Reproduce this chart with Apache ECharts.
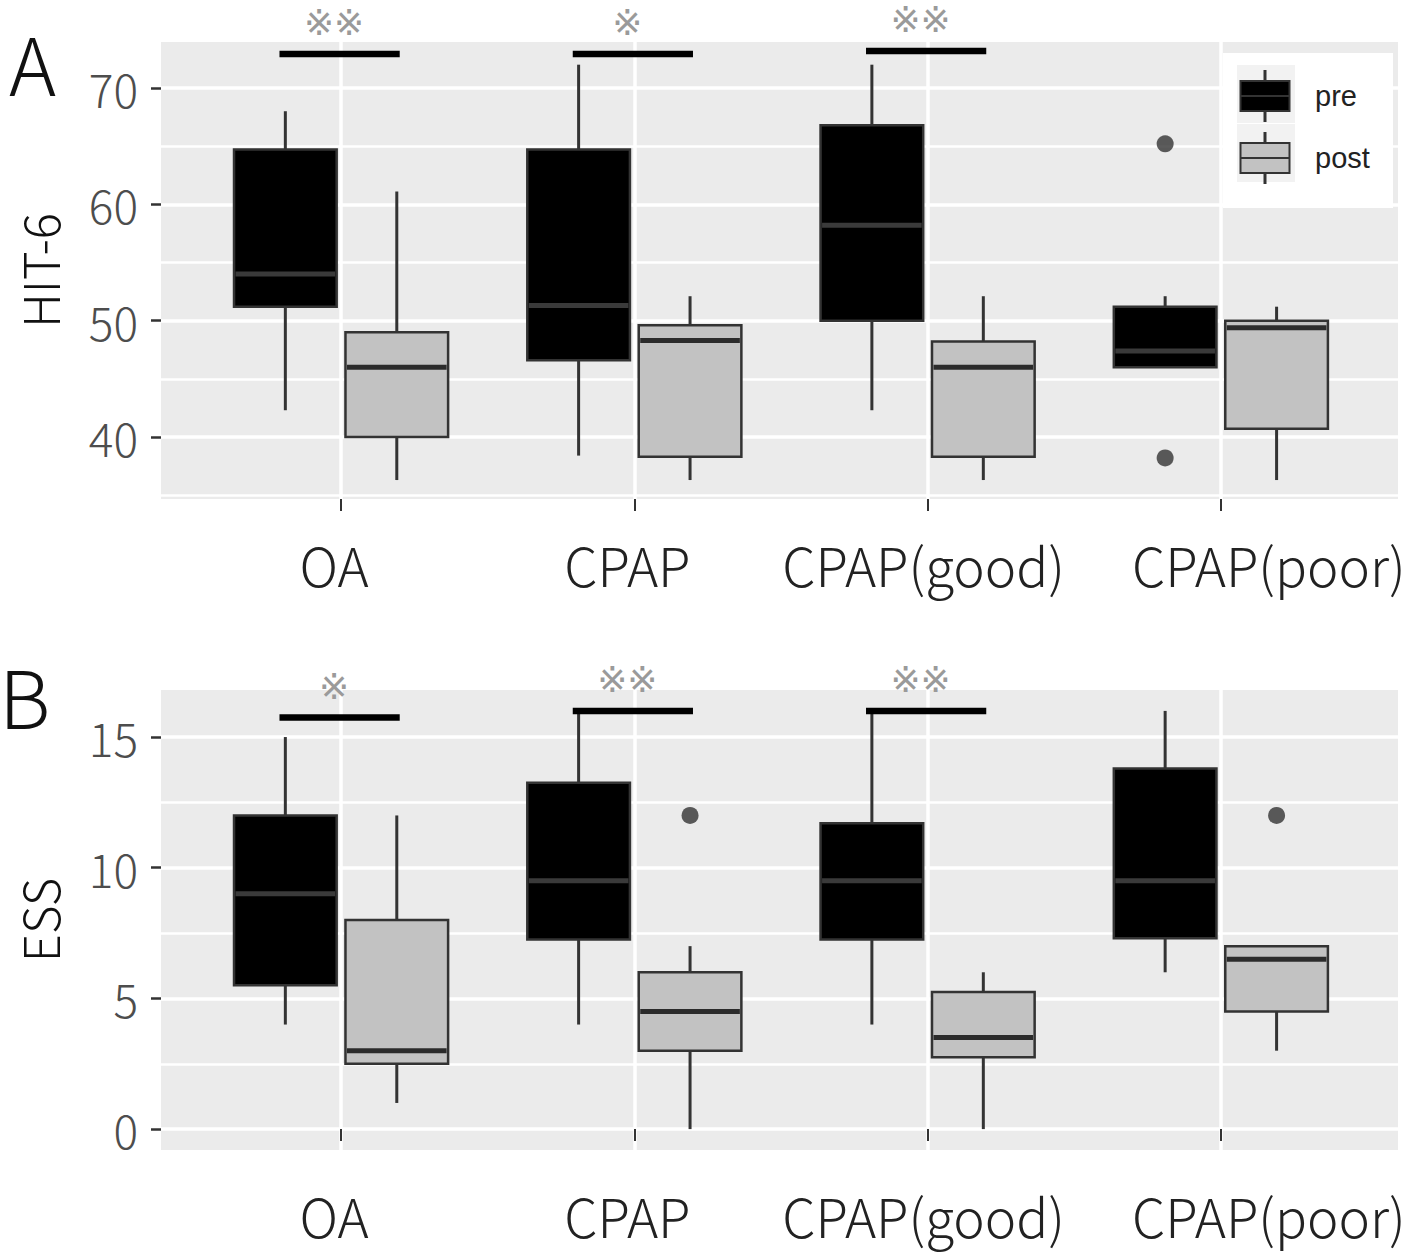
<!DOCTYPE html>
<html>
<head>
<meta charset="utf-8">
<script src="https://cdn.jsdelivr.net/npm/echarts@6/dist/echarts.min.js"></script>
<style>
html,body{margin:0;padding:0;background:#fff;}
#chart{width:1416px;height:1256px;}
</style>
</head>
<body>
<div id="chart"></div>
<script>
// ---------- data ----------
const categories = ['OA', 'CPAP', 'CPAP(good)', 'CPAP(poor)'];
const groupNames = ['pre', 'post'];
// five-number summaries: [lower whisker, Q1, median, Q3, upper whisker]
const hitPre  = [[42.3, 51.2, 54.0, 64.7, 68.0], [38.4, 46.6, 51.3, 64.7, 72.0], [42.3, 50.0, 58.2, 66.8, 72.0], [46.0, 46.0, 47.4, 51.2, 52.1]];
const hitPost = [[36.3, 40.0, 46.0, 49.0, 61.1], [36.3, 38.3, 48.3, 49.6, 52.1], [36.3, 38.3, 46.0, 48.2, 52.1], [36.3, 40.7, 49.4, 50.0, 51.2]];
const essPre  = [[4, 5.5, 9, 12, 15], [4, 7.25, 9.5, 13.25, 16], [4, 7.25, 9.5, 11.7, 16], [6, 7.3, 9.5, 13.8, 16]];
const essPost = [[1, 2.5, 3, 8, 12], [0, 3, 4.5, 6, 7], [0, 2.75, 3.5, 5.25, 6], [3, 4.5, 6.5, 7, 7]];
// outliers: [group, category index, value]
const hitOutliers = [['pre', 3, 65.2], ['pre', 3, 38.2]];
const essOutliers = [['post', 1, 12], ['post', 3, 12]];
// significance bars: [category index, bar value, label]
const hitSig = [[0, 72.92, '※※'], [1, 72.92, '※'], [2, 73.18, '※※']];
const essSig = [[0, 15.75, '※'], [1, 16.0, '※※'], [2, 16.0, '※※']];
// axis ticks
const catTicks = [1, 2, 3, 4];
const hitTicks = [40, 50, 60, 70];
const hitMinor = [35, 45, 55, 65];
const essTicks = [0, 5, 10, 15];
const essMinor = [2.5, 7.5, 12.5];

// ---------- layout / style ----------
const FONT = '"Noto Sans CJK JP", "Noto Sans", sans-serif';
const MARK_FONT = '"DejaVu Sans", "Noto Sans CJK JP", sans-serif';
const DODGE = 0.19, BOX_W = 0.35, SIG_FROM = -0.21, SIG_TO = 0.2;
const X_MIN = 0.386, X_MAX = 4.604;
const FILL = {pre: '#000000', post: '#c2c2c2'};
const MED = {pre: '#3a3a3a', post: '#2b2b2b'};
const OFFSET = {pre: -DODGE, post: DODGE};
// horizontal nudges of the category labels (left/right padding in px)
const LABEL_PAD = [[0, 14], [0, 14], [0, 8], [96, 0]];
const ICON = 'path://M24,0 L25,0 L25,10 L24,10 Z M0,10 L49,10 L49,40 L0,40 Z M0,25 L49,25 M24,40 L25,40 L25,50 L24,50 Z';

const labelRich = {};
categories.forEach((c, i) => {
  labelRich['c' + i] = {fontSize: 53, fontWeight: 300, color: '#222', fontFamily: FONT,
    padding: [0, LABEL_PAD[i][1], 0, LABEL_PAD[i][0]]};
});

function xAxisCfg(gi) {
  return {
    gridIndex: gi, type: 'value', min: X_MIN, max: X_MAX,
    axisLine: {show: false},
    axisTick: {show: true, customValues: catTicks, length: 12, lineStyle: {color: '#333', width: 2}},
    axisLabel: {show: true, customValues: catTicks, margin: 38, fontSize: 53, color: '#222', fontFamily: FONT,
      formatter: v => { const i = Math.round(v) - 1; return '{c' + i + '|' + categories[i] + '}'; },
      rich: labelRich},
    splitLine: {show: true, lineStyle: {color: '#ffffff', width: 3.5}}
  };
}
function yAxisCfg(gi, min, max, ticks, name) {
  return {
    gridIndex: gi, type: 'value', min: min, max: max, position: 'left',
    name: name, nameLocation: 'middle', nameRotate: 90, nameGap: 98,
    nameTextStyle: {fontSize: 49, fontWeight: 300, color: '#111', fontFamily: FONT},
    axisLine: {show: false},
    axisTick: {show: true, customValues: ticks, length: 10, lineStyle: {color: '#333', width: 2.5}},
    axisLabel: {show: true, customValues: ticks, margin: 23, fontSize: 46, fontWeight: 300, color: '#4d4d4d', fontFamily: FONT},
    splitLine: {show: true, lineStyle: {color: '#ffffff', width: 3.5}}
  };
}
function yMinorCfg(gi, min, max, ticks) {
  return {
    gridIndex: gi, type: 'value', min: min, max: max, position: 'left',
    axisLine: {show: false},
    axisTick: {show: false, customValues: ticks},
    axisLabel: {show: false, customValues: ticks},
    splitLine: {show: true, lineStyle: {color: '#ffffff', width: 2.5}}
  };
}

function boxSeries(group, stats, gi) {
  const fill = FILL[group], med = MED[group], off = OFFSET[group];
  return {
    type: 'custom', name: group, xAxisIndex: gi, yAxisIndex: gi * 2, z: 3,
    itemStyle: {color: fill, borderColor: '#333', borderWidth: 2},
    encode: {x: 0, y: [1, 2, 3, 4, 5]},
    data: stats.map((s, i) => [i + 1].concat(s)),
    renderItem: function (params, api) {
      const x = api.value(0) + off;
      const p = k => api.coord([x, api.value(k)]);
      const lo = p(1), q1 = p(2), md = p(3), q3 = p(4), hi = p(5);
      const w = api.size([BOX_W, 0])[0];
      const cx = lo[0];
      return {type: 'group', children: [
        {type: 'line', shape: {x1: cx, y1: hi[1], x2: cx, y2: q3[1]}, style: {stroke: '#333', lineWidth: 3}},
        {type: 'line', shape: {x1: cx, y1: q1[1], x2: cx, y2: lo[1]}, style: {stroke: '#333', lineWidth: 3}},
        {type: 'rect', shape: {x: cx - w / 2, y: q3[1], width: w, height: q1[1] - q3[1]},
          style: {fill: fill, stroke: '#333', lineWidth: 2.5}},
        {type: 'line', shape: {x1: cx - w / 2 + 1.5, y1: md[1], x2: cx + w / 2 - 1.5, y2: md[1]},
          style: {stroke: med, lineWidth: 5}}
      ]};
    }
  };
}
function outlierSeries(list, gi) {
  return {
    type: 'scatter', name: 'outlier', xAxisIndex: gi, yAxisIndex: gi * 2, z: 4,
    symbol: 'circle', symbolSize: 17, itemStyle: {color: '#333'},
    data: list.map(o => [o[1] + 1 + OFFSET[o[0]], o[2]])
  };
}
function sigSeries(list, gi) {
  return {
    type: 'custom', name: 'sig', xAxisIndex: gi, yAxisIndex: gi * 2, z: 5, clip: false,
    encode: {x: 0, y: 1},
    data: list.map(s => [s[0] + 1, s[1]]),
    renderItem: function (params, api) {
      const label = list[params.dataIndex][2];
      const c = api.value(0), v = api.value(1);
      const a = api.coord([c + SIG_FROM, v]);
      const b = api.coord([c + SIG_TO, v]);
      const m = api.coord([c, v]);
      return {type: 'group', children: [
        {type: 'line', shape: {x1: a[0], y1: a[1], x2: b[0], y2: b[1]}, style: {stroke: '#000', lineWidth: 6.5}},
        {type: 'text', x: m[0] - 7, y: m[1] - 31,
          style: {text: label, fill: '#9a9a9a', fontSize: 36, fontFamily: MARK_FONT, align: 'center', verticalAlign: 'middle'}}
      ]};
    }
  };
}

const chart = echarts.init(document.getElementById('chart'), null, {renderer: 'svg', width: 1416, height: 1256});
chart.setOption({
  backgroundColor: '#ffffff',
  animation: false,
  title: [
    {text: 'A', left: 4, top: 16, textStyle: {fontSize: 80, fontWeight: 300, color: '#111', fontFamily: FONT}},
    {text: 'B', left: -6, top: 649, textStyle: {fontSize: 80, fontWeight: 300, color: '#111', fontFamily: FONT}}
  ],
  grid: [
    {left: 161, top: 42, width: 1237, height: 457, show: true, backgroundColor: '#ebebeb', borderWidth: 0, outerBoundsMode: 'none'},
    {left: 161, top: 690, width: 1237, height: 460, show: true, backgroundColor: '#ebebeb', borderWidth: 0, outerBoundsMode: 'none'}
  ],
  xAxis: [xAxisCfg(0), xAxisCfg(1)],
  yAxis: [
    yAxisCfg(0, 34.67, 73.95, hitTicks, 'HIT-6'),
    yMinorCfg(0, 34.67, 73.95, hitMinor),
    yAxisCfg(1, -0.8, 16.8, essTicks, 'ESS'),
    yMinorCfg(1, -0.8, 16.8, essMinor)
  ],
  legend: {
    data: [{name: 'pre', icon: ICON}, {name: 'post', icon: ICON}],
    orient: 'vertical', left: 1239.5, top: 70, padding: 0,
    itemWidth: 90, itemHeight: 50, itemGap: 10, selectedMode: false,
    itemStyle: {borderColor: '#333', borderWidth: 2},
    textStyle: {fontSize: 29, color: '#222', fontFamily: '"Liberation Sans", Arial, sans-serif'},
    z: 6
  },
  graphic: [
    {type: 'rect', z: 5, shape: {x: 1223, y: 53, width: 170, height: 155}, style: {fill: '#ffffff'}},
    {type: 'rect', z: 5, shape: {x: 1237, y: 65, width: 58, height: 58}, style: {fill: '#f2f2f2'}},
    {type: 'rect', z: 5, shape: {x: 1237, y: 124, width: 58, height: 58}, style: {fill: '#f2f2f2'}}
  ],
  series: [
    boxSeries('pre', hitPre, 0), boxSeries('post', hitPost, 0),
    boxSeries('pre', essPre, 1), boxSeries('post', essPost, 1),
    outlierSeries(hitOutliers, 0), outlierSeries(essOutliers, 1),
    sigSeries(hitSig, 0), sigSeries(essSig, 1)
  ]
});
</script>
</body>
</html>
